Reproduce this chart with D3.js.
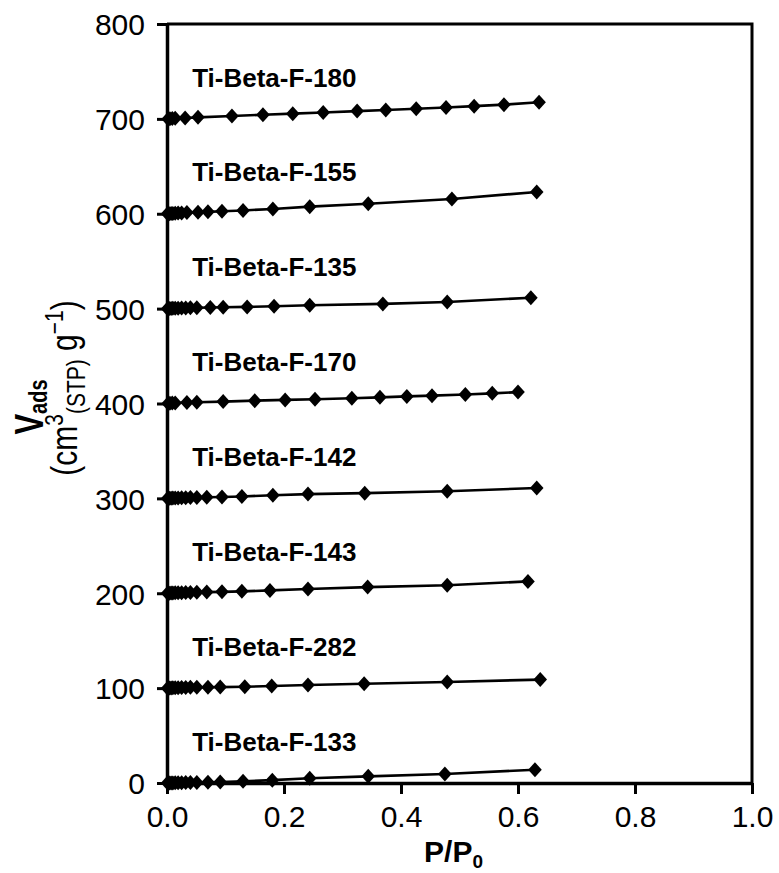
<!DOCTYPE html>
<html>
<head>
<meta charset="utf-8">
<script src="https://cdn.jsdelivr.net/npm/d3@7/dist/d3.min.js"></script>
<style>
  html, body { margin: 0; padding: 0; background: #fff; }
  svg { display: block; font-family: "Liberation Sans", Arial, sans-serif; }
</style>
</head>
<body>
<svg id="chart" width="779" height="873"></svg>
<script>
// Nitrogen adsorption isotherms (low-pressure branch), each sample shifted up by 100 units
const sampleNames = ["Ti-Beta-F-133", "Ti-Beta-F-282", "Ti-Beta-F-143", "Ti-Beta-F-142",
                     "Ti-Beta-F-170", "Ti-Beta-F-135", "Ti-Beta-F-155", "Ti-Beta-F-180"];
const sampleOffsets = [0, 100, 200, 300, 400, 500, 600, 700];

const xTicks = [0.0, 0.2, 0.4, 0.6, 0.8, 1.0];
const yTicks = [0, 100, 200, 300, 400, 500, 600, 700, 800];

// relative pressures of the closely spaced low-pressure points
const lowP = [0.001, 0.004, 0.007, 0.010, 0.014, 0.019, 0.025, 0.032, 0.040];

const p133 = lowP.concat([0.051, 0.070, 0.091, 0.130, 0.180, 0.244, 0.344, 0.475, 0.629]);
const v133 = [0, 0, 0.1, 0.1, 0.2, 0.2, 0.3, 0.4, 0.5, 0.6, 0.8, 1.0, 1.8, 3.0, 5.0, 7.0, 9.5, 14.0];

const p282 = lowP.concat([0.051, 0.070, 0.091, 0.133, 0.179, 0.241, 0.337, 0.479, 0.638]);
const v282 = [0, 0.1, 0.2, 0.3, 0.4, 0.5, 0.6, 0.7, 0.8, 0.9, 1.0, 1.1, 1.4, 2.3, 3.3, 4.6, 6.5, 9.0];

const p143 = lowP.concat([0.051, 0.068, 0.094, 0.128, 0.176, 0.241, 0.343, 0.479, 0.617]);
const v143 = [0, 0.1, 0.2, 0.3, 0.4, 0.5, 0.6, 0.7, 0.8, 1.0, 1.2, 1.5, 2.0, 3.0, 4.5, 6.5, 8.5, 12.5];

const p142 = lowP.concat([0.051, 0.068, 0.094, 0.128, 0.181, 0.241, 0.338, 0.479, 0.632]);
const v142 = [0, 0.1, 0.2, 0.3, 0.4, 0.5, 0.6, 0.7, 0.8, 1.0, 1.2, 1.5, 2.0, 3.3, 4.5, 5.5, 7.5, 11.0];

const p170 = [0.002, 0.005, 0.009, 0.014, 0.034, 0.051, 0.096, 0.150, 0.202,
              0.253, 0.316, 0.364, 0.410, 0.453, 0.510, 0.556, 0.600];
const v170 = [0, 0.2, 0.4, 0.6, 1.0, 1.3, 2.0, 3.0, 3.8, 4.5, 5.5, 6.5, 7.5, 8.3, 9.5, 10.7, 12.0];

const p135 = lowP.concat([0.051, 0.074, 0.096, 0.137, 0.183, 0.244, 0.369, 0.479, 0.622]);
const v135 = [0, 0.1, 0.2, 0.3, 0.4, 0.5, 0.6, 0.7, 0.8, 1.0, 1.2, 1.4, 1.8, 2.5, 3.5, 5.0, 7.0, 11.5];

const p155 = [0.001, 0.004, 0.007, 0.010, 0.014, 0.019, 0.025,
              0.034, 0.053, 0.070, 0.094, 0.130, 0.181, 0.244, 0.344, 0.487, 0.632];
const v155 = [0, 0.1, 0.2, 0.3, 0.5, 0.7, 0.9, 1.2, 1.6, 2.0, 2.6, 3.5, 5.0, 7.5, 10.5, 15.5, 23.0];

const p180 = [0.002, 0.005, 0.009, 0.014, 0.031, 0.053, 0.111, 0.164, 0.215,
              0.267, 0.325, 0.374, 0.426, 0.477, 0.525, 0.576, 0.636];
const v180 = [0, 0.2, 0.4, 0.6, 1.0, 1.6, 3.0, 4.3, 5.5, 6.8, 8.2, 9.3, 10.6, 12.0, 13.4, 15.0, 17.5];

const pressures = [p133, p282, p143, p142, p170, p135, p155, p180];
const uptakes   = [v133, v282, v143, v142, v170, v135, v155, v180];

// ---- layout ----
const svg = d3.select("#chart");
const plot = { left: 167, right: 752, top: 24, bottom: 783 };

const x = d3.scaleLinear().domain([0, 1]).range([plot.left, plot.right]);
const y = d3.scaleLinear().domain([0, 800]).range([plot.bottom, plot.top]);

const series = sampleNames.map((name, i) => ({
  name,
  offset: sampleOffsets[i],
  points: pressures[i].map((p, j) => ({ p, v: uptakes[i][j] + sampleOffsets[i] }))
}));

// frame: top and right edges
svg.append("path")
  .attr("d", `M${plot.left},${plot.top}H${plot.right}V${plot.bottom}`)
  .attr("fill", "none").attr("stroke", "#000").attr("stroke-width", 3);

// axes
const xAxis = d3.axisBottom(x).tickValues(xTicks).tickFormat(d3.format(".1f"))
  .tickSize(11).tickSizeOuter(0).tickPadding(10);
const yAxis = d3.axisLeft(y).tickValues(yTicks).tickFormat(d3.format("d"))
  .tickSize(10).tickSizeOuter(0).tickPadding(12);

const gx = svg.append("g").attr("transform", `translate(0,${plot.bottom})`).call(xAxis);
const gy = svg.append("g").attr("transform", `translate(${plot.left},0)`).call(yAxis);

[gx, gy].forEach(g => {
  g.select(".domain").attr("stroke", "#000").attr("stroke-width", 3.5);
  g.selectAll(".tick line").attr("stroke", "#000").attr("stroke-width", 3);
  g.selectAll(".tick text").attr("fill", "#000")
    .style("font-family", "'Liberation Sans', Arial, sans-serif")
    .style("font-size", "30px");
});
gx.selectAll(".tick text").attr("dy", "0.78em");
gy.selectAll(".tick text").attr("dy", "0.36em");

// isotherm lines and diamond markers
const line = d3.line().x(d => x(d.p)).y(d => y(d.v));
const diamond = "M0,-7.5L6.8,0L0,7.5L-6.8,0Z";

const gs = svg.append("g").selectAll("g.series").data(series).join("g").attr("class", "series");

gs.append("path")
  .attr("d", d => line(d.points))
  .attr("fill", "none").attr("stroke", "#000").attr("stroke-width", 2.6);

gs.selectAll("path.mk").data(d => d.points).join("path")
  .attr("class", "mk")
  .attr("d", diamond)
  .attr("transform", d => `translate(${x(d.p)},${y(d.v)})`)
  .attr("fill", "#000");

// sample labels above each isotherm
gs.append("text")
  .attr("x", x(0.043))
  .attr("y", d => y(d.offset + 34))
  .attr("font-weight", "bold")
  .attr("font-size", 26)
  .attr("fill", "#000")
  .text(d => d.name);

// x-axis title: P/P0
const xt = svg.append("text")
  .attr("x", (plot.left + plot.right) / 2 - 6)
  .attr("y", 862)
  .attr("text-anchor", "middle")
  .attr("font-weight", "bold")
  .attr("font-size", 30)
  .attr("fill", "#000");
xt.append("tspan").text("P/P");
xt.append("tspan").attr("font-size", 19).attr("dy", 6).text("0");

// y-axis title, two rotated lines
const yt1 = svg.append("text")
  .attr("transform", "translate(43,407) rotate(-90) scale(1,1.3)")
  .attr("text-anchor", "middle")
  .attr("font-weight", "bold")
  .attr("font-size", 31)
  .attr("fill", "#000");
yt1.append("tspan").text("V");
yt1.append("tspan").attr("font-size", 20).attr("dy", 3).text("ads");

const yt2 = svg.append("text")
  .attr("transform", "translate(77,388) rotate(-90) scale(1,1.2)")
  .attr("text-anchor", "middle")
  .attr("font-size", 30)
  .attr("fill", "#000");
yt2.append("tspan").text("(cm");
yt2.append("tspan").attr("font-size", 21).attr("dy", -12).text("3");
yt2.append("tspan").attr("font-size", 21).attr("dy", 19).text("(STP)");
yt2.append("tspan").attr("dy", -7).text(" g");
yt2.append("tspan").attr("font-size", 21).attr("dy", -12).text("\u22121");
yt2.append("tspan").attr("dy", 12).text(")");
</script>
</body>
</html>
